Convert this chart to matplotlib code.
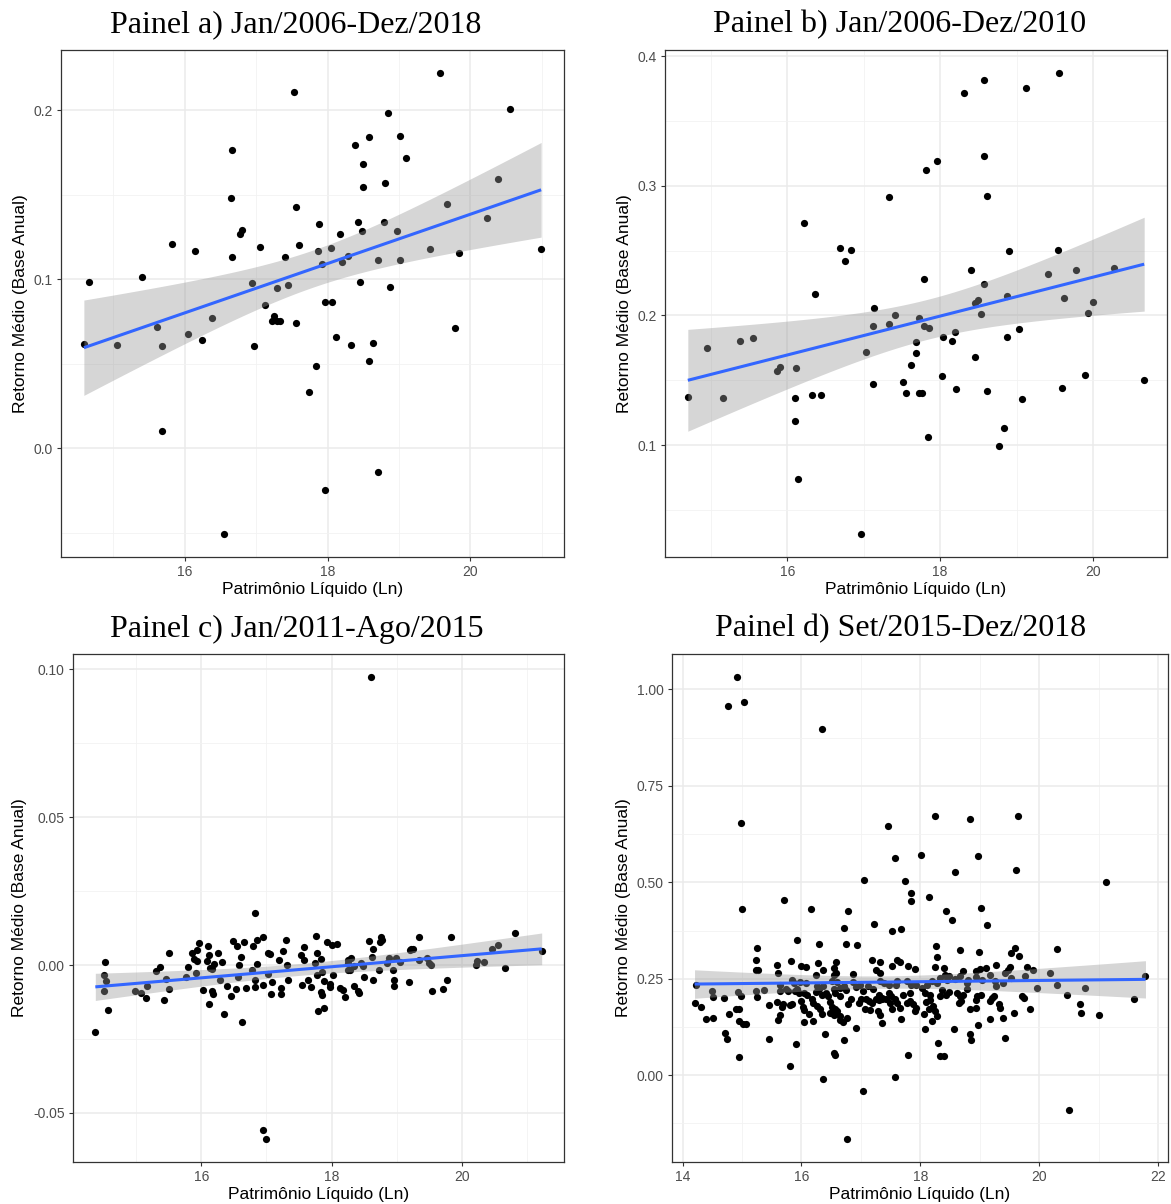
import numpy as np
import matplotlib
matplotlib.use("Agg")
import matplotlib.pyplot as plt
from matplotlib.ticker import FixedLocator

plt.rcParams['font.family'] = ['Liberation Sans', 'DejaVu Sans']
plt.rcParams['axes.unicode_minus'] = False

#DATA
#panel a) Jan/2006-Dez/2018
pl_a = [14.59, 14.66, 15.05, 15.40, 15.62, 15.69, 15.69, 15.83, 16.05, 16.14,
        16.24, 16.38, 16.55, 16.65, 16.67, 16.67, 16.78, 16.80, 16.95, 16.97,
        17.06, 17.12, 17.25, 17.22, 17.30, 17.34, 17.29, 17.40, 17.45, 17.53,
        17.56, 17.56, 17.60, 17.74, 17.84, 17.86, 17.88, 17.92, 17.96, 17.97,
        18.06, 18.05, 18.12, 18.17, 18.20, 18.29, 18.33, 18.38, 18.43, 18.45,
        18.48, 18.49, 18.50, 18.58, 18.58, 18.63, 18.70, 18.71, 18.79, 18.80,
        18.85, 18.87, 18.97, 19.01, 19.02, 19.10, 19.44, 19.57, 19.67, 19.79,
        19.84, 20.23, 20.38, 20.55, 20.99]
ret_a = [0.0620, 0.0983, 0.0609, 0.1015, 0.0715, 0.0101, 0.0607, 0.1209, 0.0679, 0.1170,
         0.0640, 0.0769, -0.0507, 0.1484, 0.1766, 0.1130, 0.1267, 0.1290, 0.0976, 0.0604,
         0.1190, 0.0846, 0.0782, 0.0753, 0.0753, 0.0751, 0.0949, 0.1130, 0.0967, 0.2108,
         0.1427, 0.0744, 0.1204, 0.0336, 0.0487, 0.1170, 0.1326, 0.1091, -0.0246, 0.0864,
         0.0864, 0.1184, 0.0661, 0.1269, 0.1100, 0.1136, 0.0609, 0.1795, 0.1337, 0.0985,
         0.1288, 0.1680, 0.1545, 0.0519, 0.1842, 0.0625, -0.0142, 0.1112, 0.1337, 0.1570,
         0.1984, 0.0956, 0.1285, 0.1114, 0.1851, 0.1716, 0.1177, 0.2221, 0.1445, 0.0710,
         0.1154, 0.1364, 0.1596, 0.2009, 0.1182]

#panel b) Jan/2006-Dez/2010
pl_b = [14.70, 14.95, 15.16, 15.38, 15.55, 15.87, 15.90, 16.10, 16.10, 16.12,
        16.14, 16.22, 16.33, 16.36, 16.44, 16.69, 16.75, 16.84, 16.97, 17.03,
        17.12, 17.12, 17.14, 17.33, 17.33, 17.41, 17.51, 17.55, 17.62, 17.68,
        17.68, 17.72, 17.72, 17.77, 17.79, 17.79, 17.82, 17.84, 17.85, 17.96,
        18.03, 18.04, 18.15, 18.19, 18.21, 18.31, 18.40, 18.46, 18.46, 18.50,
        18.54, 18.57, 18.57, 18.57, 18.62, 18.62, 18.77, 18.83, 18.87, 18.87,
        18.90, 19.03, 19.07, 19.13, 19.41, 19.54, 19.56, 19.59, 19.62, 19.78,
        19.89, 19.94, 20.00, 20.28, 20.67]
ret_b = [0.1371, 0.1750, 0.1362, 0.1806, 0.1827, 0.1571, 0.1603, 0.1186, 0.1365, 0.1594,
         0.0742, 0.2711, 0.1386, 0.2162, 0.1386, 0.2520, 0.2423, 0.2508, 0.0316, 0.1718,
         0.1921, 0.1474, 0.2056, 0.2914, 0.1935, 0.2006, 0.1486, 0.1406, 0.1621, 0.1794,
         0.1712, 0.1979, 0.1406, 0.1406, 0.2282, 0.1921, 0.3125, 0.1063, 0.1900, 0.3190,
         0.1536, 0.1833, 0.1800, 0.1874, 0.1436, 0.3719, 0.2347, 0.1677, 0.2097, 0.2120,
         0.2015, 0.2244, 0.3816, 0.3228, 0.2920, 0.1418, 0.0995, 0.1130, 0.1833, 0.2153,
         0.2497, 0.1894, 0.1356, 0.3757, 0.2320, 0.2508, 0.3869, 0.1439, 0.2132, 0.2350,
         0.1545, 0.2021, 0.2103, 0.2364, 0.1503]

#panel c) Jan/2011-Ago/2015
pl_c = [18.61, 16.94, 16.99, 14.37, 16.83, 21.23, 20.82,
        14.52, 14.50, 14.54, 14.51, 14.56, 14.98, 15.07, 15.15, 15.16, 15.30,
        15.37, 15.43, 15.45, 15.50, 15.50, 15.79, 15.77, 15.85, 15.89, 15.92,
        15.94, 15.96, 15.93, 16.02, 16.10, 16.08, 16.12, 16.11, 16.13, 16.16,
        16.17, 16.18, 16.19, 16.25, 16.31, 16.28, 16.35, 16.39, 16.45, 16.48,
        16.54, 16.53, 16.61, 16.58, 16.57, 16.63, 16.65, 16.68, 16.79, 16.86,
        16.95, 16.78, 16.82, 16.86, 16.94, 16.82, 17.02, 17.06, 17.03, 17.07,
        17.09, 17.20, 17.23, 17.22, 17.26, 17.30, 17.32, 17.33, 17.55, 17.57,
        17.53, 17.58, 17.64, 17.68, 17.76, 17.77, 17.78, 17.79,
        17.74, 17.84, 17.86, 17.88, 17.84, 17.85, 17.89, 17.93, 18.00, 18.08,
        18.02, 17.98, 17.97, 18.13, 18.18, 18.21, 18.25, 18.26, 18.30, 18.25,
        18.29, 18.34, 18.35, 18.40, 18.43, 18.45, 18.48, 18.50, 18.58, 18.63,
        18.62, 18.64, 18.76, 18.77, 18.74, 18.73, 18.86, 18.89, 18.96, 18.96,
        18.95, 18.99, 19.06, 19.19, 19.21, 19.22, 19.25, 19.34, 19.35, 19.47,
        19.50, 19.53, 19.55, 19.72, 19.77, 19.84, 20.22, 20.24, 20.34, 20.47,
        20.56, 20.67]
ret_c = [0.0974, -0.0557, -0.0588, -0.0226, 0.0175, 0.0048, 0.0110,
         0.0011, -0.0032, -0.0053, -0.0088, -0.0153, -0.0089, -0.0096, -0.0113, -0.0071, -0.0021,
         -0.0006, -0.0119, -0.0046, -0.0082, 0.0041, -0.0006, -0.0040, 0.0040, 0.0020, -0.0028,
         0.0051, 0.0073, 0.0014, -0.0085, 0.0063, 0.0014, 0.0033, -0.0133, -0.0009, -0.0014,
         -0.0089, -0.0098, 0.0003, 0.0040, 0.0009, -0.0050, -0.0164, -0.0070, -0.0106, 0.0082,
         0.0064, -0.0080, 0.0027, -0.0001, -0.0042, -0.0193, 0.0078, -0.0079, 0.0066, 0.0085,
         0.0096, -0.0017, -0.0051, 0.0003, -0.0066, -0.0073, 0.0040, 0.0036, -0.0031, -0.0098,
         -0.0058, 0.0017, -0.0076, -0.0098, 0.0046, 0.0084, 0.0001, -0.0049, -0.0067, 0.0062,
         0.0034, 0.0017, -0.0051, -0.0073, 0.0099, 0.0042, -0.0034, -0.0155,
         0.0006, 0.0019, -0.0023, -0.0053, -0.0090, -0.0102, -0.0144, 0.0079, 0.0068, 0.0070,
         -0.0034, -0.0073, -0.0064, -0.0076, -0.0085, -0.0107, 0.0017, 0.0008, 0.0023, -0.0017,
         -0.0017, -0.0003, -0.0071, -0.0088, -0.0094, 0.0008, -0.0003, -0.0042, 0.0081, 0.0053,
         0.0028, -0.0051, 0.0096, 0.0085, 0.0079, -0.0017, 0.0006, 0.0023, -0.0049, -0.0071,
         -0.0017, 0.0023, 0.0011, -0.0056, 0.0051, 0.0056, 0.0056, 0.0096, 0.0017, 0.0023,
         0.0008, 0.0000, -0.0087, -0.0081, -0.0049, 0.0094, -0.0001, 0.0014, 0.0009, 0.0056,
         0.0068, -0.0011]

#panel d) Set/2015-Dez/2018
pl_d = [14.91, 14.77, 15.04, 16.35, 14.98, 17.45, 18.24, 18.84, 19.65, 17.57,
        18.02, 18.97, 19.61, 18.58, 17.06, 17.74, 21.13, 17.85, 17.84, 18.14,
        15.71, 15.00, 16.16, 16.79, 18.44, 19.02, 18.54, 17.22, 19.13, 16.71,
        17.67, 17.53, 15.93,
        16.30, 16.75, 16.94, 15.25, 18.27, 18.66, 20.30, 19.60,
        17.03, 16.76, 20.50,
        15.24, 15.27, 15.24, 15.58, 15.60, 15.83, 15.99, 16.08, 16.27, 16.25,
        16.36, 16.58, 16.55, 16.58, 16.55, 16.87, 17.18, 17.32, 17.25, 17.32,
        17.53, 17.61, 17.65, 17.79, 17.91,
        14.22, 14.50, 14.51, 14.70, 14.93, 14.98, 15.23, 15.25, 15.37, 15.64,
        15.64, 15.74, 15.77, 15.84, 15.88, 15.92, 15.98, 16.08, 15.89, 15.95,
        16.05, 16.09, 16.26, 16.30, 16.37, 16.25, 16.34, 16.42, 16.51, 16.54,
        16.59, 16.65, 16.72, 16.75, 16.56, 16.65, 16.87, 16.92, 16.98, 17.03,
        17.12, 17.21, 17.32, 17.39, 17.47, 17.59, 17.61, 17.78, 17.84, 17.93,
        17.31, 17.36, 17.51, 17.47, 17.71, 17.83,
        14.20, 14.31, 14.40, 14.51, 14.78, 14.89, 14.94, 14.94, 15.02, 15.06,
        14.72, 14.74, 15.46, 15.45, 15.59, 15.69, 15.67, 15.64, 15.60, 15.84,
        15.81, 15.99, 16.02, 16.04, 16.12, 16.04, 16.19, 15.91, 16.17, 16.20,
        16.26, 16.31, 16.34, 16.39, 16.44, 16.48, 16.51, 16.56, 16.48, 16.55,
        16.59, 16.64, 16.65, 16.70, 16.76, 16.55, 16.56, 16.71, 16.79, 16.83,
        16.92, 16.96, 17.01, 17.09, 17.14, 17.18, 17.26, 17.31, 17.36, 17.07,
        17.16, 17.29, 17.32, 17.35, 17.42, 17.49, 17.57, 17.61, 17.53, 17.66,
        17.68, 17.78, 17.82, 17.88, 17.93, 17.91, 17.79, 17.58, 16.36, 15.81,
        14.95,
        18.28, 18.24, 18.40, 18.98, 19.28, 19.53, 19.66, 19.51, 19.80, 19.90,
        20.19, 18.93, 19.00, 19.10, 18.72, 18.66, 18.59, 18.48, 18.45, 18.42,
        18.34, 18.28, 18.20, 18.11, 18.81, 18.93, 19.04, 19.17, 19.26, 19.28,
        19.40, 19.43, 19.47, 19.53, 19.77, 19.96, 20.30, 20.47, 20.78, 20.69,
        20.70, 21.00, 21.60, 21.79, 18.03, 18.08, 18.16, 18.10, 18.17, 18.14,
        18.22, 18.25, 18.28, 18.06, 18.19, 18.08, 18.30, 18.34, 18.40, 18.37,
        18.44, 18.34, 18.48, 18.62, 18.66, 18.72, 18.65, 18.69, 18.79, 18.78,
        18.93, 18.96, 19.02, 18.83, 18.94, 18.56, 18.84, 18.85, 18.97, 19.17,
        19.40, 19.42, 19.18, 19.21, 19.24, 19.32, 19.34, 19.58, 19.71, 19.75,
        19.85]
ret_d = [1.032, 0.957, 0.967, 0.898, 0.654, 0.646, 0.671, 0.665, 0.671, 0.564,
         0.570, 0.569, 0.533, 0.528, 0.505, 0.504, 0.502, 0.472, 0.451, 0.461,
         0.455, 0.431, 0.431, 0.426, 0.426, 0.433, 0.402, 0.391, 0.390, 0.382,
         0.380, 0.373, 0.351,
         0.341, 0.340, 0.337, 0.330, 0.335, 0.325, 0.326, 0.329,
         -0.042, -0.165, -0.091,
         0.298, 0.272, 0.272, 0.285, 0.266, 0.297, 0.283, 0.281, 0.290, 0.259,
         0.272, 0.294, 0.278, 0.266, 0.259, 0.262, 0.300, 0.293, 0.274, 0.264,
         0.284, 0.300, 0.293, 0.284, 0.276,
         0.235, 0.218, 0.203, 0.201, 0.216, 0.205, 0.218, 0.203, 0.221, 0.235,
         0.218, 0.224, 0.218, 0.247, 0.240, 0.224, 0.241, 0.240, 0.218, 0.214,
         0.214, 0.207, 0.231, 0.224, 0.231, 0.216, 0.209, 0.214, 0.244, 0.224,
         0.241, 0.227, 0.231, 0.222, 0.212, 0.205, 0.241, 0.229, 0.233, 0.218,
         0.231, 0.224, 0.244, 0.240, 0.233, 0.233, 0.244, 0.244, 0.233, 0.233,
         0.209, 0.201, 0.205, 0.214, 0.209, 0.214,
         0.188, 0.178, 0.145, 0.149, 0.158, 0.172, 0.171, 0.141, 0.132, 0.132,
         0.109, 0.093, 0.093, 0.181, 0.190, 0.184, 0.178, 0.155, 0.143, 0.184,
         0.181, 0.192, 0.178, 0.168, 0.160, 0.138, 0.140, 0.082, 0.197, 0.188,
         0.179, 0.172, 0.158, 0.106, 0.205, 0.190, 0.178, 0.172, 0.162, 0.157,
         0.166, 0.153, 0.142, 0.138, 0.149, 0.057, 0.052, 0.091, 0.184, 0.197,
         0.123, 0.188, 0.197, 0.198, 0.192, 0.188, 0.198, 0.195, 0.198, 0.171,
         0.169, 0.166, 0.155, 0.136, 0.197, 0.188, 0.197, 0.188, 0.172, 0.175,
         0.147, 0.188, 0.192, 0.184, 0.175, 0.166, 0.052, -0.004, -0.010, 0.024,
         0.048,
         0.307, 0.281, 0.278, 0.319, 0.287, 0.316, 0.309, 0.281, 0.281, 0.272,
         0.266, 0.270, 0.276, 0.278, 0.270, 0.257, 0.250, 0.257, 0.247, 0.259,
         0.253, 0.240, 0.244, 0.235, 0.247, 0.255, 0.248, 0.261, 0.244, 0.231,
         0.240, 0.266, 0.272, 0.253, 0.257, 0.227, 0.235, 0.208, 0.227, 0.184,
         0.162, 0.156, 0.198, 0.258, 0.227, 0.214, 0.209, 0.190, 0.196, 0.171,
         0.180, 0.166, 0.153, 0.158, 0.141, 0.119, 0.084, 0.051, 0.051, 0.222,
         0.209, 0.205, 0.215, 0.214, 0.205, 0.209, 0.188, 0.192, 0.224, 0.240,
         0.196, 0.205, 0.209, 0.172, 0.175, 0.121, 0.106, 0.091, 0.129, 0.146,
         0.149, 0.097, 0.192, 0.201, 0.205, 0.184, 0.175, 0.162, 0.205, 0.201,
         0.172]

titles = ['Painel a) Jan/2006-Dez/2018', 'Painel b) Jan/2006-Dez/2010',
          'Painel c) Jan/2011-Ago/2015', 'Painel d) Set/2015-Dez/2018']
xlabel = 'Patrimônio Líquido (Ln)'
ylabel = 'Retorno Médio (Base Anual)'

yticks_a = [0.0, 0.1, 0.2]
ylabels_a = ['0.0', '0.1', '0.2']
yticks_b = [0.1, 0.2, 0.3, 0.4]
ylabels_b = ['0.1', '0.2', '0.3', '0.4']
yticks_c = [-0.05, 0.0, 0.05, 0.10]
ylabels_c = ['-0.05', '0.00', '0.05', '0.10']
yticks_d = [0.0, 0.25, 0.5, 0.75, 1.0]
ylabels_d = ['0.00', '0.25', '0.50', '0.75', '1.00']
xticks_abc = [16, 18, 20]
xticks_d = [14, 16, 18, 20, 22]

W, H = 1171, 1204


def t_quantile(df, z=1.959964):
    #cornish-fisher approx of student t 97.5%
    return z + (z**3 + z) / (4 * df) + (5 * z**5 + 16 * z**3 + 3 * z) / (96 * df**2)


def lm_band(x, y):
    x = np.asarray(x)
    y = np.asarray(y)
    n = len(x)
    b1, b0 = np.polyfit(x, y, 1)
    resid = y - (b0 + b1 * x)
    s = np.sqrt(np.sum(resid ** 2) / (n - 2))
    sxx = np.sum((x - x.mean()) ** 2)
    xs = np.linspace(x.min(), x.max(), 80)
    fit = b0 + b1 * xs
    se = s * np.sqrt(1 / n + (xs - x.mean()) ** 2 / sxx)
    t = t_quantile(n - 2)
    return xs, fit, fit - t * se, fit + t * se


def expand(v):
    lo, hi = min(v), max(v)
    pad = 0.05 * (hi - lo)
    return lo - pad, hi + pad


def make_panel(box, x, y, title, title_x, xticks, yticks, ylabels):
    l, t, r, b = box
    ax = plt.gcf().add_axes([l / W, 1 - b / H, (r - l) / W, (b - t) / H])
    xlim = expand(x)
    ylim = expand(y)

    #grid (major + minor, ggplot style)
    xmaj = np.array(xticks, dtype=float)
    ymaj = np.array(yticks, dtype=float)
    dx = xmaj[1] - xmaj[0]
    dy = ymaj[1] - ymaj[0]
    xmin_ = np.arange(xmaj[0] - dx / 2, xlim[1], dx)
    ymin_ = np.arange(ymaj[0] - dy / 2, ylim[1], dy)
    ax.xaxis.set_major_locator(FixedLocator(xticks))
    ax.yaxis.set_major_locator(FixedLocator(yticks))
    ax.xaxis.set_minor_locator(FixedLocator(list(xmin_)))
    ax.yaxis.set_minor_locator(FixedLocator(list(ymin_)))
    ax.set_yticklabels(ylabels)
    ax.set_xticklabels([str(v) for v in xticks])
    ax.grid(True, which='major', color='#EBEBEB', lw=1.1, zorder=0)
    ax.grid(True, which='minor', color='#F2F2F2', lw=0.6, zorder=0)
    ax.set_axisbelow(True)

    ax.scatter(x, y, s=27, c='black', linewidths=0, zorder=2)
    xs, fit, lo, hi = lm_band(x, y)
    ax.fill_between(xs, lo, hi, color='#999999', alpha=0.4, lw=0, zorder=3)
    ax.plot(xs, fit, color='#3366FF', lw=2.2, zorder=4, solid_capstyle='butt')

    ax.set_xlim(xlim)
    ax.set_ylim(ylim)
    for sp in ax.spines.values():
        sp.set_color('#333333')
        sp.set_linewidth(0.9)
    ax.tick_params(which='major', length=3, width=0.8, color='#333333',
                   labelsize=10, labelcolor='#4D4D4D', pad=3)
    ax.tick_params(which='minor', length=0)
    ax.set_xlabel(xlabel, fontsize=12.5, labelpad=2)
    ax.set_ylabel(ylabel, fontsize=12.5, labelpad=4)
    plt.gcf().text(title_x / W, 1 - (t - 25) / H, title, ha='center', va='center',
                   fontsize=23, family=['Liberation Serif', 'DejaVu Serif'])
    return ax


fig = plt.figure(figsize=(W / 100, H / 100), dpi=100)
fig.patch.set_facecolor('white')

make_panel((61, 50, 564, 557), pl_a, ret_a, titles[0], 296, xticks_abc, yticks_a, ylabels_a)
make_panel((665, 50, 1167, 557), pl_b, ret_b, titles[1], 900, xticks_abc, yticks_b, ylabels_b)
make_panel((73, 654, 564, 1162), pl_c, ret_c, titles[2], 297, xticks_abc, yticks_c, ylabels_c)
make_panel((672, 654, 1168, 1162), pl_d, ret_d, titles[3], 901, xticks_d, yticks_d, ylabels_d)

fig.savefig('out.png', dpi=100)
